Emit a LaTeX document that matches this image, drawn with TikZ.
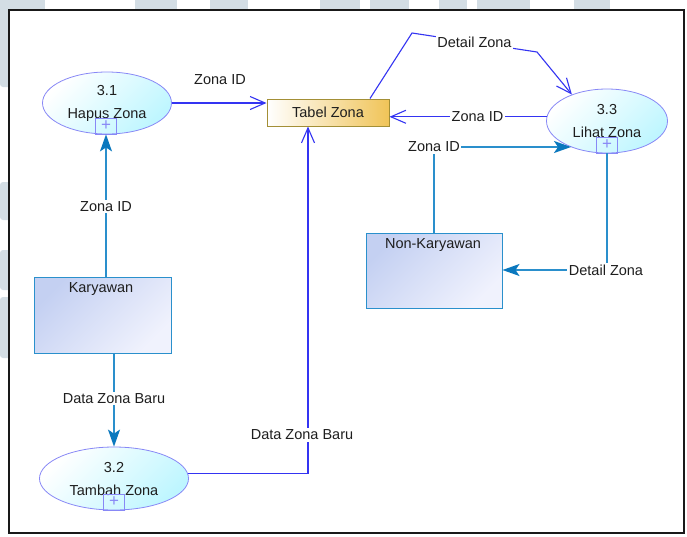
\documentclass[tikz,border=0pt]{standalone}
\usepackage{fontspec}
\setmainfont{Liberation Sans}
\usetikzlibrary{arrows.meta,shapes.geometric}

\definecolor{flowblue}{HTML}{3434F2}
\definecolor{flowcyan}{HTML}{2A8FCC}
\definecolor{tipcyan}{HTML}{0A78BE}
\definecolor{procedge}{HTML}{8888F6}
\definecolor{procfill}{HTML}{BEF6FF}
\definecolor{entedge}{HTML}{2A90CC}
\definecolor{enttop}{HTML}{C4D0F2}
\definecolor{entbot}{HTML}{F0F2FD}
\definecolor{storeedge}{HTML}{A38F36}
\definecolor{storefill}{HTML}{F0C458}
\definecolor{wmark}{HTML}{D3DDE4}
\definecolor{ink}{HTML}{1E1E1E}

\begin{document}
\begin{tikzpicture}[x=1pt,y=-1pt,
  font=\fontsize{14.5}{17}\selectfont, text=ink,
  process/.style={ellipse, draw=procedge, line width=0.8pt,
    top color=white, bottom color=procfill, shading angle=45,
    inner sep=0pt, align=center, font=\fontsize{14.5}{23}\selectfont},
  plusbox/.style={draw=procedge, line width=0.8pt, minimum width=21pt,
    minimum height=16pt, inner sep=0pt, text=procedge,
    font=\fontsize{17}{17}\selectfont},
  entity/.style={draw=entedge, line width=1pt,
    top color=enttop, bottom color=entbot, shading angle=45, inner sep=0pt},
  store/.style={draw=storeedge, line width=1pt,
    left color=white, right color=storefill, inner sep=0pt,
    minimum width=122pt, minimum height=27pt},
  flowlbl/.style={fill=white, inner sep=1.5pt},
  blueflow/.style={draw=flowblue, line width=1.1pt,
    -{Straight Barb[length=15pt,width=13pt,line width=1.1pt]}},
  bluewire/.style={draw=flowblue, line width=1.1pt},
  cyanflow/.style={draw=flowcyan, line width=1.5pt,
    -{Stealth[length=17pt,width=12pt,inset=4pt,color=tipcyan]}},
  cyanwire/.style={draw=flowcyan, line width=1.5pt},
]
\useasboundingbox (0,0) rectangle (687,536);

% faint logo strips around the sheet
\begin{scope}[fill=wmark]
  \foreach \a/\b in {0/45,135/177,210/248,320/360,370/409,439/467,477/530,574/610}
    \fill (\a,0) rectangle (\b,14);
  \foreach \a/\b in {0/87,182/220,250/290,297/358}
    \fill[rounded corners=3pt] (0,\a) rectangle (12,\b);
\end{scope}

% sheet frame
\draw[line width=1.7pt, draw=black!90, fill=white] (9,10) rectangle (684,533);

% processes
\node[process, minimum width=129pt, minimum height=62pt] (hapus) at (107,103) {3.1\\Hapus Zona};
\node[process, minimum width=121pt, minimum height=64pt] (lihat) at (607,121) {3.3\\Lihat Zona};
\node[process, minimum width=149pt, minimum height=63pt] (tambah) at (114,478.5) {3.2\\Tambah Zona};
\node[plusbox, anchor=south] (plus1) at ([xshift=-1pt]hapus.south) {+};
\node[plusbox, anchor=south] (plus3) at (lihat.south) {+};
\node[plusbox, anchor=south] (plus2) at (tambah.south) {+};

% data store
\node[store] (tabel) at (328,112.5) {Tabel Zona};

% external entities
\node[entity, minimum width=137pt, minimum height=76pt] (kar) at (102.5,315) {};
\node (karT) at (101,289) {Karyawan};
\node[entity, minimum width=136pt, minimum height=75pt] (nonk) at (434,270.5) {};
\node (nonkT) at (433,245) {Non-Karyawan};

% flows into and out of the data store
\node (zid1) at (220,80) {Zona ID};
\draw[blueflow] (hapus.east) -- (hapus.east -| tabel.west);

\draw[blueflow] (lihat.176) -- (lihat.176 -| tabel.east)
  node[flowlbl, pos=0.44] (zid2) {Zona ID};

\coordinate (dzA) at (412,33);
\coordinate (dzB) at (537,52);
\draw[blueflow] ([xshift=42pt]tabel.north) -- (dzA) -- (dzB)
  node[flowlbl, midway] (dz1) {Detail Zona} -- (lihat.143);

\coordinate (tzIn) at ([xshift=-20pt]tabel.south);
\draw[blueflow] (tambah.4) -- (tambah.4 -| tzIn) -- (tzIn);
\node[flowlbl] (dzb2) at (302,435) {Data Zona Baru};

% flows between entities and processes
\node[flowlbl] (zid3) at (434,147) {Zona ID};
\draw[cyanwire] (nonk.north) -- (zid3);
\draw[cyanflow] (zid3.east) -- (zid3.east -| lihat.216);

\node[flowlbl] (dz2) at (606,270) {Detail Zona};
\draw[cyanwire] (plus3.south) -- (plus3.south |- dz2.north);
\draw[cyanflow] (dz2.west) -- (dz2.west -| nonk.east);

\draw[cyanflow] (plus1.south |- kar.north) -- (plus1.south)
  node[flowlbl, pos=0.49] (zid4) {Zona ID};

\draw[cyanflow] (tambah.north |- kar.south) -- (tambah.north)
  node[flowlbl, pos=0.48] (dzb1) {Data Zona Baru};
\end{tikzpicture}
\end{document}
